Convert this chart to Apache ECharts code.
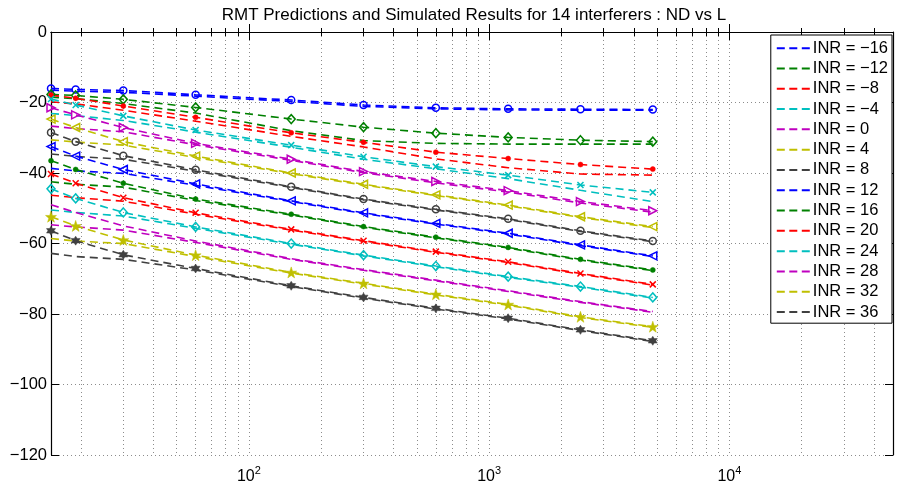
<!DOCTYPE html>
<html>
<head>
<meta charset="utf-8">
<script src="https://cdn.jsdelivr.net/npm/echarts@6/dist/echarts.min.js"></script>
<style>
html,body{margin:0;padding:0;background:#fff;}
#c{width:897px;height:487px;}
</style>
</head>
<body>
<div id="c"></div>
<script>
// ---------- data ----------
const L = [15, 19, 30, 60, 150, 300, 600, 1200, 2400, 4800];
const inrLevels = [-16, -12, -8, -4, 0, 4, 8, 12, 16, 20, 24, 28, 32, 36];
const xMajorTicks = [100, 1000, 10000];
const yTicks = [-120, -100, -80, -60, -40, -20, 0];

// simulated (with markers)
const simM16 = [-16.0, -16.3, -16.6, -17.8, -19.3, -20.7, -21.5, -21.8, -21.9, -22.0];
const simM12 = [-17.7, -18.0, -19.1, -21.4, -24.7, -27.0, -28.7, -29.9, -30.7, -31.1];
const simM8  = [-17.9, -18.8, -21.0, -24.2, -28.6, -31.3, -34.1, -35.9, -37.6, -38.9];
const simM4  = [-19.0, -20.7, -23.8, -27.8, -32.1, -35.4, -38.2, -40.6, -43.4, -45.5];
const sim0   = [-21.5, -23.5, -27.1, -31.6, -36.1, -39.6, -42.4, -45.0, -48.1, -50.7];
const sim4   = [-24.7, -27.1, -31.1, -35.2, -40.0, -43.2, -46.2, -49.1, -52.4, -55.2];
const sim8   = [-28.5, -31.1, -35.1, -39.1, -43.9, -47.4, -50.3, -53.0, -56.4, -59.3];
const sim12  = [-32.5, -35.2, -39.0, -43.1, -47.9, -51.3, -54.3, -57.1, -60.4, -63.5];
const sim16  = [-36.5, -39.0, -42.9, -47.4, -51.7, -55.2, -58.2, -61.1, -64.5, -67.5];
const sim20  = [-40.3, -42.9, -47.0, -51.3, -56.0, -59.2, -62.3, -65.2, -68.5, -71.6];
const sim24  = [-44.5, -47.2, -51.2, -55.3, -60.0, -63.3, -66.4, -69.4, -72.2, -75.3];
const sim28  = [-49.0, -51.2, -55.0, -59.3, -64.3, -67.4, -70.4, -73.4, -76.5, -79.3];
const sim32  = [-52.4, -55.0, -59.0, -63.3, -68.2, -71.3, -74.4, -77.3, -80.8, -83.6];
const sim36  = [-56.4, -59.2, -63.2, -67.1, -72.0, -75.3, -78.4, -81.2, -84.5, -87.6];

// RMT predictions (no markers)
const predM16 = [-16.5, -16.8, -17.1, -18.2, -19.7, -21.1, -21.8, -22.1, -22.2, -22.2];
const predM12 = [-18.5, -18.9, -20.3, -23.0, -28.0, -30.8, -31.6, -31.8, -31.8, -31.8];
const predM8  = [-19.8, -20.4, -22.2, -25.3, -29.6, -32.6, -36.0, -38.5, -40.3, -40.6];
const predM4  = [-23.1, -23.7, -25.1, -28.4, -32.7, -36.1, -38.8, -41.6, -44.9, -48.1];
const pred0   = [-26.7, -27.4, -28.3, -32.0, -36.4, -39.9, -42.8, -45.4, -48.5, -51.1];
const pred4   = [-30.6, -31.2, -32.1, -35.6, -40.2, -43.4, -46.4, -49.3, -52.6, -55.5];
const pred8   = [-34.6, -35.3, -36.1, -39.5, -44.1, -47.6, -50.5, -53.2, -56.6, -59.5];
const pred12  = [-38.7, -39.4, -40.1, -43.5, -48.1, -51.5, -54.5, -57.3, -60.6, -63.7];
const pred16  = [-42.5, -43.2, -44.0, -47.8, -51.9, -55.4, -58.4, -61.3, -64.7, -67.7];
const pred20  = [-46.3, -47.0, -48.0, -51.7, -56.2, -59.4, -62.5, -65.4, -68.7, -71.8];
const pred24  = [-50.5, -51.2, -52.2, -55.7, -60.2, -63.5, -66.6, -69.6, -72.4, -75.5];
const pred28  = [-54.7, -55.3, -56.2, -59.7, -64.5, -67.6, -70.6, -73.6, -76.7, -79.5];
const pred32  = [-58.6, -59.3, -60.0, -63.7, -68.4, -71.5, -74.6, -77.5, -81.0, -83.8];
const pred36  = [-62.8, -63.7, -64.5, -67.5, -72.2, -75.5, -78.6, -81.4, -84.7, -87.8];

const simAll  = [simM16, simM12, simM8, simM4, sim0, sim4, sim8, sim12, sim16, sim20, sim24, sim28, sim32, sim36];
const predAll = [predM16, predM12, predM8, predM4, pred0, pred4, pred8, pred12, pred16, pred20, pred24, pred28, pred32, pred36];

// ---------- styling ----------
const FONT = '"Liberation Sans", Arial, Helvetica, sans-serif';
const colorCycle = ['#0000ff', '#008000', '#ff0000', '#00bfbf', '#bf00bf', '#bfbf00', '#404040'];
const markers = ['o', 'd', '.', 'x', '>', '<', 'o', '<', '.', 'x', 'd', 'none', 'p', 'h'];
const SYM = {
  'o': { symbol: 'circle', size: 7, hollow: true },
  'd': { symbol: 'path://M5,0L10,6L5,12L0,6Z', size: [8, 9], hollow: true },
  '.': { symbol: 'circle', size: 5, hollow: false },
  'x': { symbol: 'path://M0,0L10,10M10,0L0,10', size: 6, hollow: true },
  '>': { symbol: 'path://M0,0L10,5L0,10Z', size: 8, hollow: true },
  '<': { symbol: 'path://M10,0L0,5L10,10Z', size: 8, hollow: true },
  'p': { symbol: 'path://M50,0L61.8,35.1L97.6,34.5L69.1,56.9L79.4,90.5L50,70L20.6,90.5L30.9,56.9L2.4,34.5L38.2,35.1Z', size: 11, hollow: false },
  'h': { symbol: 'path://M50,0L64.4,25L93.3,25L78.9,50L93.3,75L64.4,75L50,100L35.6,75L6.7,75L21.1,50L6.7,25L35.6,25Z', size: 9, hollow: false },
  'none': { symbol: 'none', size: 0, hollow: false }
};
const minus = v => (v < 0 ? '\u2212' + Math.abs(v) : String(v));
const names = inrLevels.map(v => 'INR = ' + minus(v));
const DASH = [8, 5];
const LW = 1.6;

const xMinor = [];
[10, 100, 1000, 10000].forEach(d => { for (let k = 2; k <= 9; k++) { const v = k * d; if (v > 15 && v < 48000) xMinor.push(v); } });
const xAllTicks = xMinor.concat(xMajorTicks).sort((a, b) => a - b);

const series = [];
predAll.forEach((arr, i) => {
  const c = colorCycle[i % 7];
  series.push({
    name: names[i], type: 'line', xAxisIndex: 0, yAxisIndex: 0,
    data: L.map((x, j) => [x, arr[j]]),
    symbol: 'none', clip: false, silent: true,
    lineStyle: { color: c, width: LW, type: DASH },
    itemStyle: { color: c },
    emphasis: { disabled: true }, z: 3
  });
});
simAll.forEach((arr, i) => {
  const c = colorCycle[i % 7];
  const s = SYM[markers[i]];
  series.push({
    name: 'sim ' + names[i], type: 'line', xAxisIndex: 0, yAxisIndex: 0,
    data: L.map((x, j) => [x, arr[j]]),
    symbol: s.symbol, symbolSize: s.size, showAllSymbol: true, clip: false, silent: true,
    lineStyle: { color: c, width: LW, type: DASH },
    itemStyle: s.hollow ? { color: 'rgba(255,255,255,0)', borderColor: c, borderWidth: 1.5 }
                        : { color: c, borderColor: c, borderWidth: 0.5 },
    emphasis: { disabled: true }, z: 4
  });
});

const gridLine = { show: true, lineStyle: { color: '#8c8c8c', width: 1, type: [1, 3] } };
const xBase = { type: 'log', logBase: 10, min: 15, max: 48000, gridIndex: 0 };
const legendIcon = 'path://M0,0L8,0L8,2L0,2Z M12.5,0L20.5,0L20.5,2L12.5,2Z M25,0L33,0L33,2L25,2Z';

const option = {
  animation: false,
  backgroundColor: '#ffffff',
  textStyle: { fontFamily: FONT },
  title: {
    text: 'RMT Predictions and Simulated Results for 14 interferers : ND vs L',
    left: 469, top: 2, textAlign: 'center',
    textStyle: { fontFamily: FONT, fontSize: 17, fontWeight: 'normal', color: '#000' }
  },
  grid: { left: 51, right: 4, top: 32, bottom: 32, containLabel: false },
  xAxis: [
    Object.assign({}, xBase, {
      position: 'bottom',
      axisLine: { show: true, lineStyle: { color: '#000', width: 1.2 } },
      axisTick: { show: true, inside: true, length: 4, customValues: xAllTicks, lineStyle: { color: '#000' } },
      axisLabel: {
        show: true, customValues: xMajorTicks, margin: 10, color: '#000', fontSize: 16, fontFamily: FONT,
        formatter: v => '10{sup|' + Math.round(Math.log10(v)) + '}',
        rich: { sup: { fontSize: 11, verticalAlign: 'top', padding: [0, 0, 12, 0], fontFamily: FONT, color: '#000' } }
      },
      splitLine: gridLine, minorTick: { show: false }, minorSplitLine: { show: false }
    }),
    Object.assign({}, xBase, {
      position: 'bottom',
      axisLine: { show: false },
      axisTick: { show: true, inside: true, length: 8, customValues: xMajorTicks, lineStyle: { color: '#000' } },
      axisLabel: { show: false }, splitLine: { show: false }
    }),
    Object.assign({}, xBase, {
      position: 'top',
      axisLine: { show: true, lineStyle: { color: '#000', width: 1.2 } },
      axisTick: { show: true, inside: true, length: 4, customValues: xAllTicks, lineStyle: { color: '#000' } },
      axisLabel: { show: false }, splitLine: { show: false }
    }),
    Object.assign({}, xBase, {
      position: 'top',
      axisLine: { show: false },
      axisTick: { show: true, inside: true, length: 8, customValues: xMajorTicks, lineStyle: { color: '#000' } },
      axisLabel: { show: false }, splitLine: { show: false }
    })
  ],
  yAxis: [
    {
      type: 'value', min: -120, max: 0, interval: 20, position: 'left',
      axisLine: { show: true, lineStyle: { color: '#000', width: 1.2 } },
      axisTick: { show: true, inside: true, length: 8, lineStyle: { color: '#000' } },
      axisLabel: { show: true, margin: 4, color: '#000', fontSize: 16.5, fontFamily: FONT, formatter: minus },
      splitLine: gridLine
    },
    {
      type: 'value', min: -120, max: 0, interval: 20, position: 'right',
      axisLine: { show: true, lineStyle: { color: '#000', width: 1.2 } },
      axisTick: { show: true, inside: true, length: 8, lineStyle: { color: '#000' } },
      axisLabel: { show: false }, splitLine: { show: false }
    }
  ],
  legend: {
    data: names.map(n => ({ name: n, icon: legendIcon })),
    orient: 'vertical', right: 5, top: 35,
    padding: [4, 4, 2, 6],
    itemGap: 2, itemWidth: 33, itemHeight: 2,
    symbolKeepAspect: false,
    itemStyle: { borderWidth: 0 },
    backgroundColor: '#ffffff', borderColor: '#000', borderWidth: 1, borderRadius: 0,
    selectedMode: false,
    textStyle: { fontFamily: FONT, fontSize: 16.5, color: '#000', lineHeight: 18.3, padding: [0, 0, 0, -2] },
    z: 10
  },
  series: series
};

const chart = echarts.init(document.getElementById('c'), null, { renderer: 'canvas' });
chart.setOption(option);
</script>
</body>
</html>
